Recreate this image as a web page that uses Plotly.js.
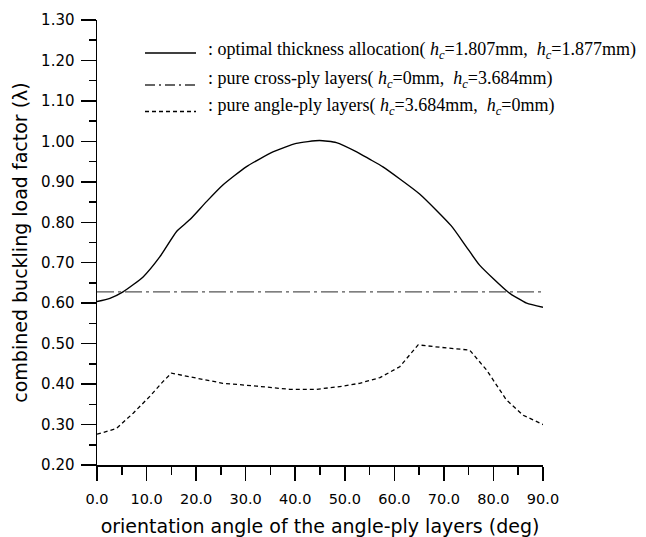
<!DOCTYPE html>
<html>
<head>
<meta charset="utf-8">
<script src="https://cdn.plot.ly/plotly-3.0.1.min.js"></script>
<style>html,body{margin:0;padding:0;background:#fff;}#chart{width:646px;height:537px;}</style>
</head>
<body>
<div id="chart"></div>
<script>
// ---- data ----
const angleOptimal = [0, 2.6, 5.25, 9.3, 12.7, 16.1, 18.7, 22.1, 25.4, 30.1, 35.5, 40.2, 44.9, 48.3, 52.4, 55.0, 57.7, 65.1, 71.5, 74.5, 77.2, 83.0, 86.7, 90];
const lambdaOptimal = [0.604, 0.612, 0.628, 0.665, 0.715, 0.778, 0.806, 0.851, 0.892, 0.937, 0.974, 0.995, 1.002, 0.997, 0.974, 0.956, 0.937, 0.870, 0.791, 0.740, 0.694, 0.627, 0.600, 0.590];

const angleCross = [0, 90];
const lambdaCross = [0.628, 0.628];

const angleAnglePly = [0, 3.9, 7.3, 10.6, 13.3, 15.0, 18.7, 25.4, 32.2, 38.9, 44.3, 49.7, 53.0, 57.1, 61.1, 64.8, 69.2, 75.2, 78.6, 82.6, 86.0, 90];
const lambdaAnglePly = [0.276, 0.290, 0.328, 0.369, 0.406, 0.427, 0.418, 0.402, 0.395, 0.387, 0.387, 0.395, 0.402, 0.416, 0.443, 0.497, 0.491, 0.484, 0.435, 0.361, 0.323, 0.300];

const hc = '<span style="font-style:italic;font-size:18px">h</span><sub><span style="font-style:italic;font-size:12.6px">c</span></sub>';
const legendTexts = [
  ': optimal thickness allocation( ' + hc + '=1.807mm,  ' + hc + '=1.877mm)',
  ': pure cross-ply layers( ' + hc + '=0mm,  ' + hc + '=3.684mm)',
  ': pure angle-ply layers( ' + hc + '=3.684mm,  ' + hc + '=0mm)'
];
const yTitle = 'combined buckling load factor (λ)';
const xTitle = 'orientation angle of the angle-ply layers (deg)';

// ---- layout helpers (pixel -> paper) ----
const W = 646, H = 537;
const M = {l: 97, r: 103, t: 20, b: 72};
const pw = W - M.l - M.r, ph = H - M.t - M.b;
const px = x => (x - M.l) / pw;
const py = y => (H - M.b - y) / ph;

const traces = [
  {x: angleOptimal, y: lambdaOptimal, mode: 'lines', name: 'optimal',
   line: {color: '#000', width: 1.4, shape: 'spline', smoothing: 0.5}},
  {x: angleCross, y: lambdaCross, mode: 'lines', name: 'cross-ply',
   line: {color: '#555', width: 1.4, dash: '17px,4px,3px,4px'}},
  {x: angleAnglePly, y: lambdaAnglePly, mode: 'lines', name: 'angle-ply',
   line: {color: '#000', width: 1.3, dash: '4px,3px'}}
];

const legendRowsY = [50, 79, 106];
const legendLineY = [53, 85, 111.5];
const legendDash = ['solid', '10px,4px,2px,4px', '4px,3px'];
const legendColor = ['#000', '#333', '#000'];

const shapes = legendLineY.map((y, i) => ({
  type: 'line', xref: 'paper', yref: 'paper',
  x0: px(145), x1: px(196), y0: py(y), y1: py(y),
  line: {color: legendColor[i], width: 1.4, dash: legendDash[i]}
}));

const annotations = legendTexts.map((t, i) => ({
  text: t, xref: 'paper', yref: 'paper', x: px(206), y: py(legendRowsY[i]),
  xanchor: 'left', yanchor: 'middle', showarrow: false,
  font: {family: '"Liberation Serif", "Times New Roman", serif', size: 18, color: '#000'}
}));

const sansFont = '"DejaVu Sans", Verdana, sans-serif';

const layout = {
  width: W, height: H,
  margin: M,
  paper_bgcolor: '#fff', plot_bgcolor: '#fff',
  showlegend: false,
  xaxis: {
    range: [0, 90], dtick: 10, tick0: 0, tickformat: '.1f',
    showgrid: false, zeroline: false,
    showline: true, linecolor: '#000', linewidth: 1.5,
    ticks: 'outside', ticklen: 14, tickwidth: 1.5, tickcolor: '#000',
    minor: {dtick: 5, ticks: 'outside', ticklen: 8, tickwidth: 1.5, tickcolor: '#000', showgrid: false},
    tickfont: {family: sansFont, size: 14.5, color: '#000'},
    ticklabelstandoff: 6,
    title: {text: xTitle, font: {family: sansFont, size: 19, color: '#000'}, standoff: 14}
  },
  yaxis: {
    range: [0.2, 1.3], dtick: 0.1, tick0: 0.2, tickformat: '.2f',
    showgrid: false, zeroline: false,
    showline: true, linecolor: '#000', linewidth: 1.5,
    ticks: 'outside', ticklen: 15, tickwidth: 1.5, tickcolor: '#000',
    minor: {dtick: 0.05, ticks: 'outside', ticklen: 7, tickwidth: 1.5, tickcolor: '#000', showgrid: false},
    tickfont: {family: sansFont, size: 15, color: '#000'},
    ticklabelstandoff: 3,
    title: {text: yTitle, font: {family: sansFont, size: 19, color: '#000'}, standoff: 8}
  },
  shapes: shapes,
  annotations: annotations
};

Plotly.newPlot('chart', traces, layout, {displayModeBar: false, staticPlot: true});
</script>
</body>
</html>
